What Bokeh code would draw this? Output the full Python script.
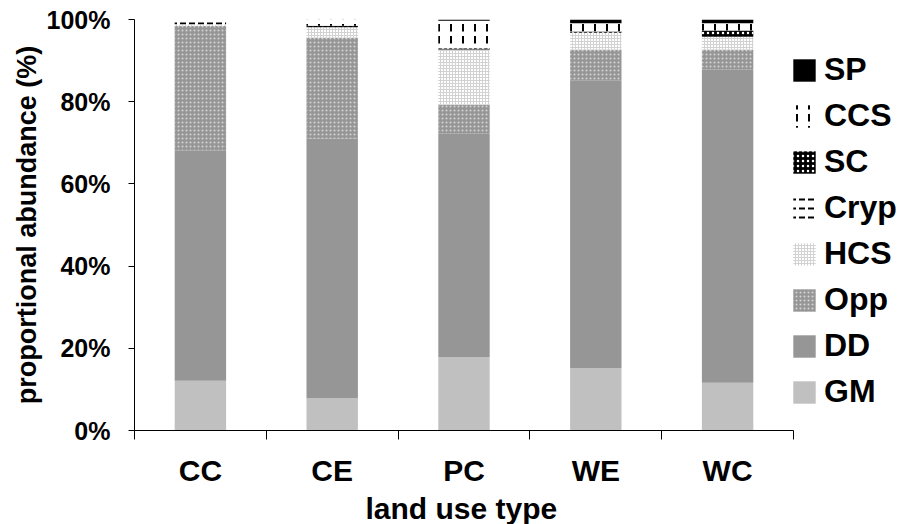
from bokeh.plotting import figure
from bokeh.models import (ColumnDataSource, Range1d, FixedTicker, PrintfTickFormatter,
                          Legend, LegendItem, Title)
from bokeh.embed import file_html
from bokeh.resources import INLINE

# Proportional abundance (%) of each functional group per land use type
land_use = ["CC", "CE", "PC", "WE", "WC"]
groups = ["GM", "DD", "Opp", "HCS", "Cryp", "SC", "CCS", "SP"]

GM = [12.1, 7.9, 17.9, 15.2, 11.6]
DD = [56.1, 63.1, 54.3, 70.0, 76.2]
Opp = [30.3, 24.6, 7.1, 7.5, 4.9]
HCS = [0.3, 2.5, 13.4, 4.1, 3.1]
Cryp = [1.2, 0.0, 0.0, 0.0, 0.0]
SC = [0.0, 0.4, 0.3, 0.3, 1.5]
CCS = [0.0, 1.5, 6.7, 2.0, 1.8]
SP = [0.0, 0.0, 0.3, 0.9, 0.9]

y_ticks = [0, 20, 40, 60, 80, 100]

FONT = "Liberation Sans"
W, H = 900, 524
LEFT, BOTTOM, TOP = 134, 93, 19
CAT_PX = 131.8          # horizontal pixels given to each land use type

n = len(land_use)
x_pos = [i + 0.5 for i in range(n)]
source = ColumnDataSource(dict(x=x_pos, GM=GM, DD=DD, Opp=Opp, HCS=HCS, Cryp=Cryp,
                               SC=SC, CCS=CCS, SP=SP))

# frame runs to the right edge so the legend can sit beside the bars
x_end = (W - LEFT) / CAT_PX
p = figure(width=W, height=H, output_backend="svg", toolbar_location=None,
           x_range=Range1d(0, x_end), y_range=Range1d(0, 100),
           min_border_left=LEFT, min_border_right=0, min_border_top=TOP,
           min_border_bottom=BOTTOM)
p.outline_line_color = None
p.xgrid.grid_line_color = None
p.ygrid.grid_line_color = None
p.background_fill_color = "white"

fill_colors = ["#c0c0c0", "#969696", "#969696", "#ffffff", "#ffffff", "#000000", "#ffffff", "#000000"]
hatch_patterns = [" ", " ", "dot", "cross", "horizontal_dash", "dot", "vertical_dash", " "]
hatch_colors = ["black", "black", "#d4d4d4", "#d2d2d2", "black", "white", "black", "black"]
hatch_scales = [6, 6, 4, 3, 9, 5, 12, 6]
hatch_weights = [1, 1, 1, 1, 2, 1, 2, 1]

renderers = p.vbar_stack(groups, x="x", width=0.39, source=source,
                         fill_color=fill_colors, line_color=None,
                         hatch_pattern=hatch_patterns, hatch_color=hatch_colors,
                         hatch_scale=hatch_scales, hatch_weight=hatch_weights)

# x axis: category names at bar centres, boundary ticks between categories
xa = p.xaxis[0]
xa.bounds = (0, n)
xa.ticker = FixedTicker(ticks=x_pos, minor_ticks=list(range(n + 1)))
xa.major_label_overrides = {x: name for x, name in zip(x_pos, land_use)}
xa.major_tick_out = 0
xa.major_tick_in = 0
xa.minor_tick_out = 9
xa.minor_tick_in = 0
xa.minor_tick_line_color = "black"
xa.axis_line_color = "black"
xa.major_label_text_font = FONT
xa.major_label_text_font_style = "bold"
xa.major_label_text_font_size = "30px"
xa.major_label_text_color = "black"
xa.major_label_standoff = 14

# x axis title, centred under the five bars rather than the whole frame
p.add_layout(Title(text="land use type", align="left", offset=231, standoff=0,
                   text_font=FONT, text_font_style="bold", text_font_size="30px",
                   text_color="black"), "below")

ya = p.yaxis[0]
ya.ticker = FixedTicker(ticks=y_ticks, minor_ticks=[])
ya.formatter = PrintfTickFormatter(format="%d%%")
ya.major_tick_out = 6
ya.major_tick_in = 0
ya.major_tick_line_color = "black"
ya.axis_line_color = "black"
ya.major_label_text_font = FONT
ya.major_label_text_font_style = "bold"
ya.major_label_text_font_size = "25px"
ya.major_label_text_color = "black"
ya.major_label_standoff = 18
ya.axis_label = "proportional abundance (%)"
ya.axis_label_text_font = FONT
ya.axis_label_text_font_style = "bold"
ya.axis_label_text_font_size = "27px"
ya.axis_label_text_color = "black"
ya.axis_label_standoff = 2

# legend listed from the top of the stack down
items = [LegendItem(label=g, renderers=[r]) for g, r in zip(groups, renderers)][::-1]
legend = Legend(items=items, location=(656, 20), orientation="vertical",
                glyph_width=28, glyph_height=28, label_standoff=6,
                spacing=9, padding=1, margin=0,
                border_line_color=None, background_fill_alpha=0,
                label_text_font=FONT, label_text_font_style="bold",
                label_text_font_size="32px", label_text_color="black")
p.add_layout(legend, "center")

open("out.html", "w").write(file_html(p, INLINE))
